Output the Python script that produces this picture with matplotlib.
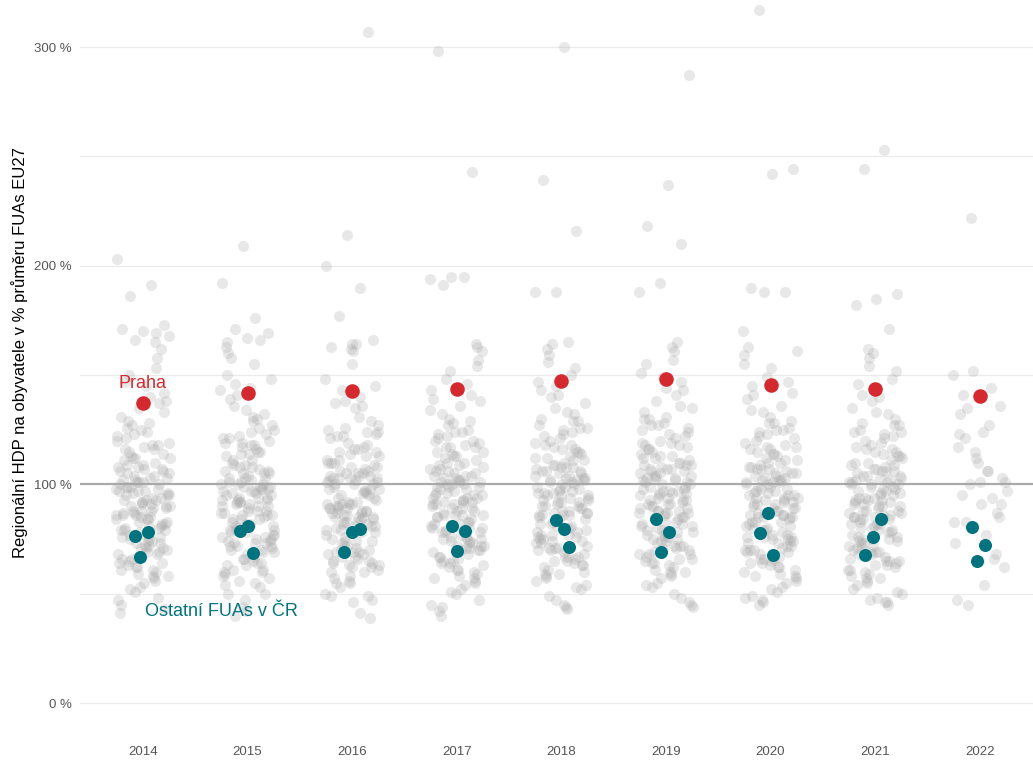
import matplotlib
matplotlib.use("Agg")
import matplotlib.pyplot as plt
import numpy as np

plt.rcParams['font.family'] = ['Liberation Sans', 'DejaVu Sans']

years = ["2014", "2015", "2016", "2017", "2018", "2019", "2020", "2021", "2022"]

# regional GDP per capita, % of EU27 FUA average (all FUAs, grey cloud)
fua_2014 = [98, 72, 115, 64, 88, 131, 57, 104, 83, 93, 121, 69, 108,
            47, 91, 77, 142, 101, 86, 60, 112, 95, 74, 126, 81, 53,
            106, 89, 66, 138, 97, 79, 118, 62, 84, 103, 150, 71, 92, 45,
            110, 87, 58, 124, 99, 76, 135, 68, 94, 113, 82, 55, 102,
            158, 73, 90, 128, 63, 107, 85, 41, 116, 96, 70, 145, 80,
            100, 59, 122, 88, 75, 133, 109, 66, 93, 51, 119, 84, 105,
            162, 78, 97, 61, 127, 89, 72, 111, 48, 101, 86, 140, 65,
            114, 91, 79, 56, 123, 103, 69, 95, 137, 83, 108, 74, 99,
            43, 117, 87, 153, 62, 105, 81, 129, 94, 71, 100, 58, 112,
            90, 77, 147, 98, 67, 120, 85, 52, 106, 92, 76, 165, 102,
            96, 84, 109, 73, 101, 64, 118, 90, 79, 107, 93, 68, 86,
            112, 75, 99, 82, 125, 61, 104, 88, 95, 71, 116, 80, 97,
            203, 191, 186, 173, 170, 171, 169, 166, 168]
fua_2015 = [101, 69, 118, 61, 86, 134, 59, 107, 80, 95, 124, 72, 105,
            44, 93, 75, 146, 98, 88, 63, 115, 92, 77, 129, 83, 50,
            109, 87, 64, 141, 99, 81, 121, 60, 86, 100, 155, 73, 94, 42,
            113, 84, 56, 127, 102, 78, 132, 66, 97, 116, 79, 57, 104,
            160, 70, 92, 125, 65, 110, 88, 47, 119, 94, 72, 148, 82,
            103, 61, 119, 90, 73, 136, 106, 68, 95, 53, 122, 81, 108,
            158, 76, 99, 58, 130, 91, 74, 114, 50, 98, 84, 143, 67,
            111, 93, 82, 54, 126, 100, 71, 97, 139, 85, 105, 76, 96,
            40, 120, 89, 150, 64, 108, 79, 131, 96, 73, 103, 60, 115,
            92, 75, 144, 101, 69, 117, 87, 55, 109, 90, 78, 163, 99,
            94, 86, 111, 70, 103, 66, 121, 88, 81, 105, 91, 74, 98,
            114, 77, 97, 84, 123, 63, 106, 90, 93, 72, 118, 79, 100,
            209, 192, 176, 171, 169, 167, 165, 166]
fua_2016 = [96, 74, 113, 66, 90, 129, 55, 102, 85, 91, 123, 67, 110,
            49, 89, 79, 140, 103, 84, 62, 110, 97, 72, 124, 83, 55,
            104, 91, 68, 136, 95, 81, 116, 64, 82, 105, 148, 69, 90, 47,
            108, 89, 60, 122, 101, 74, 137, 70, 92, 111, 84, 53, 100,
            161, 75, 88, 126, 61, 105, 87, 39, 114, 98, 68, 143, 78,
            102, 57, 124, 86, 77, 131, 111, 64, 91, 49, 117, 86, 103,
            164, 80, 95, 63, 125, 87, 70, 109, 46, 103, 88, 138, 63,
            116, 89, 81, 58, 121, 105, 67, 93, 135, 85, 106, 72, 101,
            41, 115, 85, 155, 60, 107, 83, 127, 92, 69, 98, 56, 110,
            88, 79, 145, 100, 65, 118, 83, 50, 104, 94, 74, 162, 104,
            97, 82, 108, 71, 100, 65, 119, 91, 78, 106, 94, 69, 87,
            113, 76, 98, 85, 122, 62, 103, 89, 96, 73, 115, 81, 99,
            307, 214, 200, 190, 177, 166, 164, 163]
fua_2017 = [99, 71, 117, 63, 89, 132, 56, 105, 82, 94, 122, 70, 109,
            42, 92, 76, 143, 100, 87, 59, 113, 96, 73, 127, 80, 52,
            107, 88, 65, 139, 98, 78, 119, 61, 85, 104, 152, 72, 93, 44,
            111, 86, 57, 125, 100, 75, 136, 67, 95, 114, 81, 54, 103,
            157, 72, 91, 129, 62, 108, 86, 40, 117, 97, 69, 146, 79,
            101, 58, 123, 89, 74, 134, 110, 65, 94, 50, 120, 83, 106,
            161, 77, 98, 60, 128, 90, 71, 112, 47, 102, 85, 141, 64,
            115, 92, 78, 55, 124, 104, 68, 96, 138, 82, 109, 73, 100,
            45, 118, 86, 154, 61, 106, 80, 130, 95, 70, 101, 57, 113,
            91, 76, 148, 99, 66, 121, 84, 51, 107, 93, 75, 164, 103,
            95, 83, 110, 72, 102, 67, 120, 89, 80, 104, 92, 70, 88,
            115, 74, 99, 86, 124, 64, 105, 91, 94, 75, 117, 78, 101,
            298, 243, 195, 194, 195, 191, 163]
fua_2018 = [100, 73, 116, 65, 87, 133, 58, 106, 84, 96, 124, 70, 111,
            45, 93, 78, 145, 104, 86, 61, 114, 95, 75, 129, 83, 54,
            108, 90, 67, 141, 99, 80, 120, 63, 86, 106, 153, 71, 94, 43,
            112, 89, 59, 127, 101, 77, 137, 69, 96, 115, 84, 56, 104,
            159, 74, 92, 130, 64, 109, 87, 44, 118, 98, 71, 147, 81,
            102, 60, 125, 90, 76, 135, 112, 67, 95, 52, 121, 86, 108,
            164, 79, 99, 62, 129, 91, 73, 113, 49, 103, 88, 143, 66,
            117, 93, 80, 57, 126, 105, 70, 97, 140, 84, 110, 75, 102,
            47, 119, 88, 156, 63, 108, 82, 132, 96, 72, 103, 59, 115,
            92, 78, 150, 101, 68, 123, 86, 53, 109, 95, 77, 162, 105,
            98, 85, 111, 74, 103, 67, 122, 90, 81, 107, 94, 71, 89,
            116, 77, 100, 87, 126, 65, 106, 92, 97, 76, 118, 82, 102,
            300, 239, 216, 188, 188, 165]
fua_2019 = [101, 74, 118, 66, 88, 135, 59, 107, 85, 97, 125, 71, 112,
            46, 94, 79, 147, 105, 87, 62, 115, 96, 76, 130, 84, 55,
            109, 91, 68, 143, 100, 81, 121, 64, 87, 107, 155, 72, 95, 44,
            113, 90, 60, 128, 102, 78, 138, 70, 97, 116, 85, 57, 105,
            161, 75, 93, 131, 65, 110, 88, 45, 119, 99, 72, 149, 82,
            103, 61, 126, 91, 77, 136, 113, 68, 96, 53, 122, 87, 109,
            165, 80, 100, 63, 130, 92, 74, 114, 50, 104, 89, 144, 67,
            118, 94, 81, 58, 127, 106, 71, 98, 141, 85, 111, 76, 103,
            48, 120, 89, 157, 64, 109, 83, 133, 97, 73, 104, 60, 116,
            93, 79, 151, 102, 69, 124, 87, 54, 110, 96, 78, 163, 106,
            99, 86, 112, 75, 104, 68, 123, 91, 82, 108, 95, 72, 90,
            117, 78, 101, 88, 127, 66, 107, 93, 98, 77, 119, 83, 103,
            287, 237, 218, 210, 192, 188]
fua_2020 = [99, 72, 116, 64, 86, 133, 57, 105, 83, 95, 123, 69, 110,
            45, 92, 77, 145, 103, 85, 60, 113, 94, 74, 128, 82, 53,
            107, 89, 66, 141, 98, 79, 119, 62, 85, 105, 153, 70, 93, 46,
            111, 88, 58, 126, 100, 76, 136, 68, 95, 114, 83, 55, 103,
            159, 73, 91, 129, 63, 108, 86, 47, 117, 97, 70, 147, 80,
            101, 59, 124, 89, 75, 134, 111, 66, 94, 51, 120, 85, 107,
            163, 78, 98, 61, 128, 90, 72, 112, 48, 102, 87, 142, 65,
            116, 92, 79, 56, 125, 104, 69, 96, 139, 83, 109, 74, 101,
            49, 118, 87, 155, 62, 107, 81, 131, 95, 71, 102, 58, 114,
            91, 77, 149, 100, 67, 122, 85, 52, 108, 94, 76, 161, 104,
            97, 84, 110, 73, 102, 66, 121, 89, 80, 106, 93, 70, 88,
            115, 76, 99, 86, 125, 64, 105, 91, 96, 75, 117, 81, 101,
            317, 244, 242, 190, 188, 188, 170]
fua_2021 = [98, 71, 115, 63, 85, 132, 56, 104, 82, 94, 122, 68, 109,
            46, 91, 76, 144, 102, 84, 59, 112, 93, 73, 127, 81, 52,
            106, 88, 65, 140, 97, 78, 118, 61, 84, 104, 152, 69, 92, 45,
            110, 87, 57, 125, 99, 75, 135, 67, 94, 113, 82, 54, 102,
            158, 72, 90, 128, 62, 107, 85, 46, 116, 96, 69, 146, 79,
            100, 58, 123, 88, 74, 133, 110, 65, 93, 50, 119, 84, 106,
            160, 77, 97, 60, 127, 89, 71, 111, 47, 101, 86, 141, 64,
            115, 91, 78, 55, 124, 103, 68, 95, 138, 82, 108, 73, 100,
            48, 117, 86, 154, 61, 106, 80, 130, 94, 70, 101, 57, 113,
            90, 76, 148, 99, 66, 121, 84, 51, 107, 93, 75, 162, 103,
            96, 83, 109, 72, 101, 65, 120, 88, 79, 105, 92, 69, 87,
            114, 75, 98, 85, 124, 63, 104, 90, 95, 74, 116, 80, 100,
            253, 244, 187, 185, 182, 171]
fua_2022 = [150, 106, 83, 136, 65, 117, 94, 222, 101, 54, 141, 87, 112, 73,
            127, 45, 103, 91, 132, 66, 152, 97, 77, 121, 85, 110, 47, 144,
            100, 62, 124, 95, 68, 115, 83, 106, 135, 91, 101, 123]
all_fuas = [fua_2014, fua_2015, fua_2016, fua_2017, fua_2018,
            fua_2019, fua_2020, fua_2021, fua_2022]

praha = [137.0, 142.0, 142.6, 143.8, 147.2, 148.4, 145.5, 143.7, 140.3]

# other Czech FUAs (three per year)
cz_other = [[76.5, 78.2, 67.0],
            [81.1, 78.5, 68.6],
            [79.7, 78.0, 68.9],
            [80.8, 78.9, 69.5],
            [79.7, 83.5, 71.3],
            [84.3, 78.2, 69.0],
            [86.9, 77.7, 67.6],
            [84.4, 76.0, 67.6],
            [80.5, 72.1, 64.9]]

RED = '#d42a2f'
TEAL = '#00737e'


def jitter(n, k, w):
    # deterministic spread around the category centre
    return ((np.arange(n) * 0.618034 + k * 0.377) % 1 - 0.5) * 2 * w


fig = plt.figure(figsize=(10.33, 7.6), dpi=100)
ax = fig.add_axes([80 / 1033, 32 / 760, 953 / 1033, 728 / 760])

for k, vals in enumerate(all_fuas):
    xs = k + jitter(len(vals), k, 0.26)
    ax.scatter(xs, vals, s=64, color='#a6a6a6', alpha=0.25, linewidths=0, zorder=3)

for k, vals in enumerate(cz_other):
    xs = k + jitter(len(vals), k + 3, 0.1)
    ax.scatter(xs, vals, s=88, color=TEAL, linewidths=0, zorder=4)

ax.scatter(np.arange(len(years)), praha, s=110, color=RED, linewidths=0, zorder=5)

ax.axhline(100, color='#aaaaaa', lw=1.6, zorder=2)
for g in [0, 50, 150, 200, 250, 300]:
    ax.axhline(g, color='#ebebeb', lw=0.9, zorder=1)

ax.text(0, 146, "Praha", color=RED, fontsize=13, ha='center', va='center')
ax.text(0.75, 42, "Ostatní FUAs v ČR", color=TEAL, fontsize=13, ha='center', va='center')

ax.set_xlim(-0.602, 8.509)
ax.set_ylim(-11.4, 321.5)
ax.set_xticks(np.arange(len(years)))
ax.set_xticklabels(years)
ax.set_yticks([0, 100, 200, 300])
ax.set_yticklabels(["0 %", "100 %", "200 %", "300 %"])
ax.tick_params(axis='both', length=0, labelsize=9.5, labelcolor='#555555')
ax.tick_params(axis='x', pad=13)
ax.tick_params(axis='y', pad=6)
for s in ax.spines.values():
    s.set_visible(False)

fig.text(20 / 1033, 1 - 352 / 760, "Regionální HDP na obyvatele v % průměru FUAs EU27",
         rotation=90, ha='center', va='center', fontsize=12, color='black')

fig.savefig("out.png", dpi=100)
